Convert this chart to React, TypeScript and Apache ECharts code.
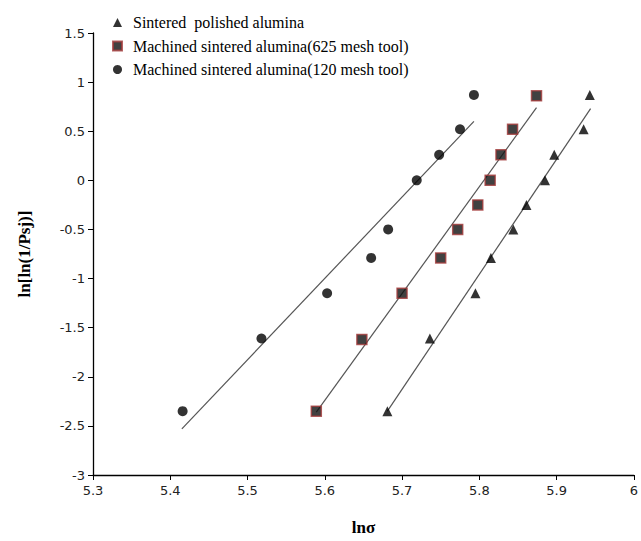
import React, { useEffect, useRef } from "react";
import * as echarts from "echarts";

const seriesNames = [
  "Sintered  polished alumina",
  "Machined sintered alumina(625 mesh tool)",
  "Machined sintered alumina(120 mesh tool)",
];

const polishedX = [5.681, 5.736, 5.795, 5.815, 5.844, 5.861, 5.885, 5.897, 5.935, 5.943];
const polishedY = [-2.35, -1.61, -1.15, -0.79, -0.5, -0.25, 0.0, 0.26, 0.52, 0.87];

const mesh625X = [5.589, 5.648, 5.7, 5.75, 5.772, 5.798, 5.814, 5.828, 5.843, 5.874];
const mesh625Y = [-2.35, -1.62, -1.15, -0.79, -0.5, -0.25, 0.0, 0.26, 0.52, 0.86];

const mesh120X = [5.416, 5.518, 5.603, 5.66, 5.682, 5.719, 5.748, 5.775, 5.793];
const mesh120Y = [-2.35, -1.61, -1.15, -0.79, -0.5, 0.0, 0.26, 0.52, 0.87];

// fitted line end points [x, y]
const polishedFit = [[5.681, -2.35], [5.944, 0.73]];
const mesh625Fit = [[5.589, -2.36], [5.874, 0.74]];
const mesh120Fit = [[5.415, -2.53], [5.793, 0.6]];

const xTicks = { min: 5.3, max: 6, interval: 0.1 };
const yTicks = { min: -3, max: 1.5, interval: 0.5 };

const zip = (xs: number[], ys: number[]) => xs.map((x, i) => [x, ys[i]]);

export default function App() {
  const ref = useRef<HTMLDivElement>(null);
  useEffect(() => {
    if (!ref.current) return;
    const chart = echarts.init(ref.current, null, { renderer: "svg" });
    const fitLine = (data: number[][]) => ({
      type: "line",
      data,
      symbol: "none",
      silent: true,
      lineStyle: { color: "#555", width: 1.2 },
      z: 1,
    });
    chart.setOption({
      animation: false,
      backgroundColor: "#fff",
      grid: { left: 93, right: 4, top: 33, bottom: 59 },
      legend: {
        orient: "vertical",
        left: 107,
        top: 9,
        itemWidth: 9,
        itemHeight: 9,
        itemGap: 6.5,
        data: seriesNames.map((n) => ({ name: n })),
        textStyle: {
          fontFamily: "Liberation Serif",
          fontSize: 16,
          color: "#000",
          lineHeight: 17,
          padding: [0, 0, 0, 6],
        },
      },
      xAxis: {
        type: "value",
        min: xTicks.min,
        max: xTicks.max,
        interval: xTicks.interval,
        name: "lnσ",
        nameLocation: "middle",
        nameGap: 44,
        nameTextStyle: { fontFamily: "Liberation Serif", fontSize: 17, fontWeight: "bold", color: "#000" },
        axisLine: { onZero: false, lineStyle: { color: "#000", width: 1.3 } },
        axisTick: { length: 5, lineStyle: { color: "#000" } },
        axisLabel: {
          fontFamily: "DejaVu Sans",
          fontSize: 13,
          color: "#222",
          margin: 9,
          formatter: (v: number) => String(Math.round(v * 10) / 10),
        },
        splitLine: { show: false },
      },
      yAxis: {
        type: "value",
        min: yTicks.min,
        max: yTicks.max,
        interval: yTicks.interval,
        name: "ln[ln(1/Psj)]",
        nameLocation: "middle",
        nameGap: 60,
        nameTextStyle: { fontFamily: "Liberation Serif", fontSize: 17, fontWeight: "bold", color: "#000" },
        axisLine: { show: true, onZero: false, lineStyle: { color: "#000", width: 1.3 } },
        axisTick: { show: true, length: 5, lineStyle: { color: "#000" } },
        axisLabel: {
          fontFamily: "DejaVu Sans",
          fontSize: 13,
          color: "#222",
          margin: 8,
          formatter: (v: number) => String(Math.round(v * 10) / 10),
        },
        splitLine: { show: false },
      },
      series: [
        {
          name: seriesNames[0],
          type: "scatter",
          symbol: "triangle",
          symbolSize: 10,
          itemStyle: { color: "#000" },
          data: zip(polishedX, polishedY),
          z: 3,
        },
        {
          name: seriesNames[1],
          type: "scatter",
          symbol: "rect",
          symbolSize: 10,
          itemStyle: { color: "#111", borderColor: "#a23a3a", borderWidth: 1.5 },
          data: zip(mesh625X, mesh625Y),
          z: 3,
        },
        {
          name: seriesNames[2],
          type: "scatter",
          symbol: "circle",
          symbolSize: 10,
          itemStyle: { color: "#000" },
          data: zip(mesh120X, mesh120Y),
          z: 3,
        },
        fitLine(polishedFit),
        fitLine(mesh625Fit),
        fitLine(mesh120Fit),
      ],
    });
    return () => chart.dispose();
  }, []);
  return (
    <div
      ref={ref}
      style={{ position: "fixed", left: 0, top: 0, width: 641, height: 541 }}
    />
  );
}
